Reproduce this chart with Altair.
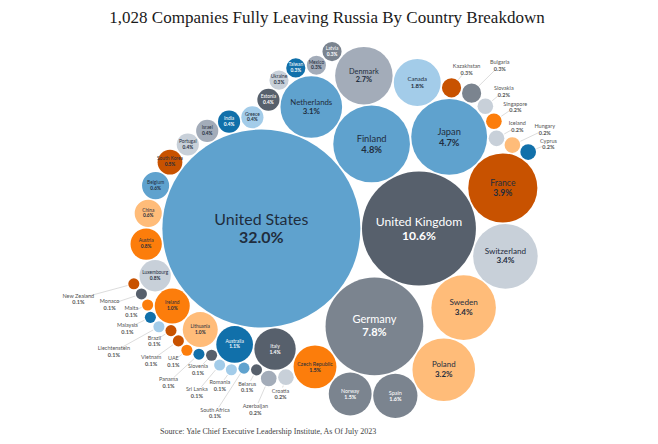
import math
import numpy as np
import pandas as pd
import altair as alt

TITLE = "1,028 Companies Fully Leaving Russia By Country Breakdown"
SOURCE = "Source: Yale Chief Executive Leadership Institute, As Of July 2023"

countries = [
    "United States", "United Kingdom", "Germany", "Finland", "Japan", "France",
    "Switzerland", "Sweden", "Poland", "Netherlands", "Denmark", "Canada", "Spain",
    "Norway", "Czech Republic", "Italy", "Australia", "Lithuania", "Ireland",
    "Luxembourg", "Austria", "China", "Belgium", "South Korea", "Portugal", "Israel",
    "India", "Greece", "Estonia", "Ukraine", "Taiwan", "Mexico", "Latvia",
    "Kazakhstan", "Bulgaria", "Slovakia", "Singapore", "Iceland", "Hungary", "Cyprus",
    "Croatia", "Azerbaijan", "Belarus", "South Africa", "Romania", "Sri Lanka",
    "Slovenia", "Panama", "UAE", "Vietnam", "Brazil", "Liechtenstein", "Malaysia",
    "Malta", "Monaco", "New Zealand",
]
shares = [
    32.0, 10.6, 7.8, 4.8, 4.7, 3.9,
    3.4, 3.4, 3.2, 3.1, 2.7, 1.8, 1.6,
    1.5, 1.5, 1.4, 1.1, 1.0, 1.0,
    0.8, 0.8, 0.6, 0.6, 0.5, 0.4, 0.4,
    0.4, 0.4, 0.4, 0.3, 0.3, 0.3, 0.3,
    0.3, 0.3, 0.2, 0.2, 0.2, 0.2, 0.2,
    0.2, 0.2, 0.1, 0.1, 0.1, 0.1,
    0.1, 0.1, 0.1, 0.1, 0.1, 0.1, 0.1,
    0.1, 0.1, 0.1,
]

# Tableau "Color Blind" palette keys per country (style mapping)
PAL = {
    "B": "#5fa2ce", "DS": "#57606c", "G": "#7b848f", "DO": "#c85200",
    "LG": "#c8d0d9", "LO": "#ffbc79", "MG": "#a3acb9", "LB": "#a3cce9",
    "O": "#fc7d0b", "DB": "#1170aa",
}
color_key = {
    "United States": "B", "United Kingdom": "DS", "Germany": "G", "Finland": "B",
    "Japan": "B", "France": "DO", "Switzerland": "LG", "Sweden": "LO", "Poland": "LO",
    "Netherlands": "B", "Denmark": "MG", "Canada": "LB", "Spain": "G", "Norway": "G",
    "Czech Republic": "O", "Italy": "DS", "Australia": "DB", "Lithuania": "LO",
    "Ireland": "O", "Luxembourg": "LG", "Austria": "O", "China": "LO", "Belgium": "B",
    "South Korea": "DO", "Portugal": "LG", "Israel": "MG", "India": "DB", "Greece": "LB",
    "Estonia": "DS", "Ukraine": "LG", "Taiwan": "DB", "Mexico": "MG", "Latvia": "G",
    "Kazakhstan": "DO", "Bulgaria": "G", "Slovakia": "LG", "Singapore": "O",
    "Iceland": "LG", "Hungary": "LO", "Cyprus": "DB", "Croatia": "LG", "Azerbaijan": "MG",
    "Belarus": "DS", "South Africa": "B", "Romania": "LB", "Sri Lanka": "LB",
    "Slovenia": "DS", "Panama": "DB", "UAE": "O", "Vietnam": "DO", "Brazil": "DO",
    "Liechtenstein": "LB", "Malaysia": "DB", "Malta": "O", "Monaco": "DS",
    "New Zealand": "DO",
}
OUTSIDE_EXTRA = {"Kazakhstan", "Bulgaria"}


def pack(R, penalty, ox, hmax):
    """Front-chain circle packing swept clockwise: each circle goes next to the
    one placed before it; when that gap is much farther from the origin than the
    best gap (or would make the pack taller than hmax), the sweep resumes at the
    gap it last gave up on."""
    n = len(R)
    X = np.zeros(n)
    Y = np.zeros(n)

    def place(a, b, r):
        dx, dy = X[b] - X[a], Y[b] - Y[a]
        d = math.hypot(dx, dy)
        ra, rb = R[a] + r, R[b] + r
        aa = (ra * ra - rb * rb + d * d) / (2 * d)
        h = math.sqrt(max(0.0, ra * ra - aa * aa))
        ux, uy = dx / d, dy / d
        px, py = X[a] + aa * ux, Y[a] + aa * uy
        return px + h * uy, py - h * ux

    def hits(j, cx, cy, r):
        dr = R[j] + r - 1e-6
        return dr > 0 and dr * dr > (X[j] - cx) ** 2 + (Y[j] - cy) ** 2

    def resolve(a, b, r):
        for _ in range(200):
            cx, cy = place(a, b, r)
            j, k, sj, sk = nxt[b], prv[a], R[b], R[a]
            moved = False
            while True:
                if sj <= sk:
                    if hits(j, cx, cy, r):
                        b, moved = j, True
                        break
                    sj += R[j]
                    j = nxt[j]
                else:
                    if hits(k, cx, cy, r):
                        a, moved = k, True
                        break
                    sk += R[k]
                    k = prv[k]
                if j == nxt[k]:
                    break
            if not moved:
                break
        return a, b, cx, cy

    X[1] = R[0] + R[1]
    X[2], Y[2] = place(1, 0, R[2])
    nxt = {0: 1, 1: 2, 2: 0}
    prv = {1: 0, 2: 1, 0: 2}
    last = 0  # the sweep starts on the top side, between the two largest circles
    pending = None
    for i in range(3, n):
        r = R[i]
        ylo = (Y[:i] - R[:i]).min()
        yhi = (Y[:i] + R[:i]).max()
        cands = []
        p = last
        while True:
            q = nxt[p]
            a_, b_, cx, cy = resolve(p, q, r)
            ok = max(yhi, cy + r) - min(ylo, cy - r) <= hmax
            cands.append((math.hypot(cx - ox, cy), p, a_, b_, cx, cy, ok))
            p = q
            if p == last:
                break
        cont = cands[0]
        valid = [c for c in cands if c[6]] or cands
        best = min(valid, key=lambda c: c[0])
        if cont[6] and cont[0] <= best[0] + penalty:
            ch = cont
        else:
            ch = best
            if pending is not None and nxt[prv[pending]] == pending:
                for c in valid:
                    if c[1] == pending:
                        ch = c
                        break
            pending = last
        X[i], Y[i] = ch[4], ch[5]
        a, b = ch[2], ch[3]
        nxt[a], prv[i], nxt[i], prv[b] = i, a, b, i
        last = i
    return X, Y


v = np.array(shares)
k = 99.0 / math.sqrt(32.0)
r = k * np.sqrt(v)
pad = 0.8
R = r + pad
X, Y = pack(R, penalty=57.0, ox=0.72 * R[0], hmax=378.0)

W, H = 642, 428
minx, maxx = (X - r).min(), (X + r).max()
miny, maxy = (Y - r).min(), (Y + r).max()
ccx, ccy = (minx + maxx) / 2, (miny + maxy) / 2
tx, ty = 325.0, 222.0
x0 = ccx - tx
y0 = ccy - ty
xscale = alt.Scale(domain=[x0, x0 + W], nice=False, zero=False)
yscale = alt.Scale(domain=[y0, y0 + H], nice=False, zero=False, reverse=True)

fills = [PAL[color_key[c]] for c in countries]
dark_fills = {PAL["DS"], PAL["G"], PAL["DB"]}
text_col = ["#ffffff" if f in dark_fills else "#1f2d3d" for f in fills]

df = pd.DataFrame({
    "name": countries, "share": v, "x": X, "y": Y, "r": r,
    "size": (2 * r) ** 2, "fill": fills, "tc": text_col,
})
df["pct"] = [f"{s:.1f}%" for s in v]
df["outside"] = [(s < 0.3) or (c in OUTSIDE_EXTRA) for s, c in zip(v, countries)]
fs = np.maximum(4.8, 6.95 * np.log(r) - 16.0)
df["fs"] = fs
df["ny"] = df["y"] - 0.55 * df["fs"]
df["py"] = df["y"] + 0.62 * df["fs"]

ins = df[~df["outside"]].copy()
out = df[df["outside"]].copy().reset_index(drop=True)

# Outside labels: pushed radially outward from the pack centre until the label
# box clears the other labels and every circle.
LFS = 5.5
placed_boxes = []
lx_l, ly_l, ex_l, ey_l = [], [], [], []
for _, row in out.iterrows():
    ux, uy = row["x"] - ccx, row["y"] - ccy
    nn = math.hypot(ux, uy)
    ux, uy = ux / nn, uy / nn
    hw = 0.3 * LFS * max(len(row["name"]), len(row["pct"])) + 1.5
    hh = 7.0
    chosen = None
    for L in np.arange(10.0, 60.0, 2.0):
        lx = row["x"] + ux * (row["r"] + L)
        ly = min(max(row["y"] + uy * (row["r"] + L), y0 + 32), y0 + H - 20)
        ok = True
        for (bx, by, bw, bh) in placed_boxes:
            if abs(lx - bx) < hw + bw and abs(ly - by) < hh + bh:
                ok = False
                break
        if ok:
            qx = np.clip(df["x"].values, lx - hw, lx + hw)
            qy = np.clip(df["y"].values, ly - hh, ly + hh)
            if np.any(np.hypot(qx - df["x"].values, qy - df["y"].values) < df["r"].values + 0.5):
                ok = False
        if ok:
            chosen = (lx, ly)
            break
    if chosen is None:
        L = 30.0
        chosen = (row["x"] + ux * (row["r"] + L), row["y"] + uy * (row["r"] + L))
    lx, ly = chosen
    placed_boxes.append((lx, ly, hw, hh))
    lx_l.append(lx)
    ly_l.append(ly)
    ex_l.append((row["x"] + ux * (row["r"] + 1), row["y"] + uy * (row["r"] + 1), ux, uy))

out["lx"] = lx_l
out["ly"] = ly_l
out["ex"] = [e[0] for e in ex_l]
out["ey"] = [e[1] for e in ex_l]
dxl = out["lx"] - out["ex"]
dyl = out["ly"] - out["ey"]
dl = np.hypot(dxl, dyl)
shrink = np.maximum(dl - 7.0, 0.0) / np.maximum(dl, 1e-6)
out["lx2"] = out["ex"] + dxl * shrink
out["ly2"] = out["ey"] + dyl * shrink
out["lny"] = out["ly"] - 3.3
out["lpy"] = out["ly"] + 3.3

X_ = lambda f: alt.X(f"{f}:Q", scale=xscale, axis=None)
Y_ = lambda f: alt.Y(f"{f}:Q", scale=yscale, axis=None)

circles = alt.Chart(df).mark_circle(opacity=1, strokeWidth=0).encode(
    x=X_("x"), y=Y_("y"),
    size=alt.Size("size:Q", scale=None, legend=None),
    color=alt.Color("fill:N", scale=None, legend=None),
)
name_in = alt.Chart(ins).mark_text(font="Lato", baseline="middle", align="center").encode(
    x=X_("x"), y=Y_("ny"), text="name:N",
    size=alt.Size("fs:Q", scale=None, legend=None),
    color=alt.Color("tc:N", scale=None, legend=None),
)
pct_in = alt.Chart(ins).mark_text(font="Lato", fontWeight="bold", baseline="middle",
                                  align="center").encode(
    x=X_("x"), y=Y_("py"), text="pct:N",
    size=alt.Size("fs:Q", scale=None, legend=None),
    color=alt.Color("tc:N", scale=None, legend=None),
)
leaders = alt.Chart(out).mark_rule(color="#c4c4c4", strokeWidth=0.6).encode(
    x=X_("ex"), y=Y_("ey"), x2="lx2:Q", y2="ly2:Q",
)
name_out = alt.Chart(out).mark_text(font="Lato", fontSize=LFS, color="#555555",
                                    baseline="middle", align="center").encode(
    x=X_("lx"), y=Y_("lny"), text="name:N",
)
pct_out = alt.Chart(out).mark_text(font="Lato", fontSize=LFS, color="#555555",
                                   fontWeight="bold", baseline="middle",
                                   align="center").encode(
    x=X_("lx"), y=Y_("lpy"), text="pct:N",
)
title = alt.Chart(pd.DataFrame({"t": [TITLE]})).mark_text(
    font="Liberation Serif", fontSize=17, color="#1a1a1a", align="center",
    baseline="middle",
).encode(text="t:N", x=alt.value(319), y=alt.value(10))
source = alt.Chart(pd.DataFrame({"t": [SOURCE]})).mark_text(
    font="Liberation Serif", fontSize=8, color="#444444", align="left",
    baseline="middle",
).encode(text="t:N", x=alt.value(152), y=alt.value(424))

chart = alt.layer(
    circles, leaders, name_in, pct_in, name_out, pct_out, title, source
).properties(
    width=W, height=H, autosize=alt.AutoSizeParams(type="none"), padding=0,
    background="white",
).configure_view(stroke=None)

chart.save("out.html", embed_options={"renderer": "svg", "actions": False})
